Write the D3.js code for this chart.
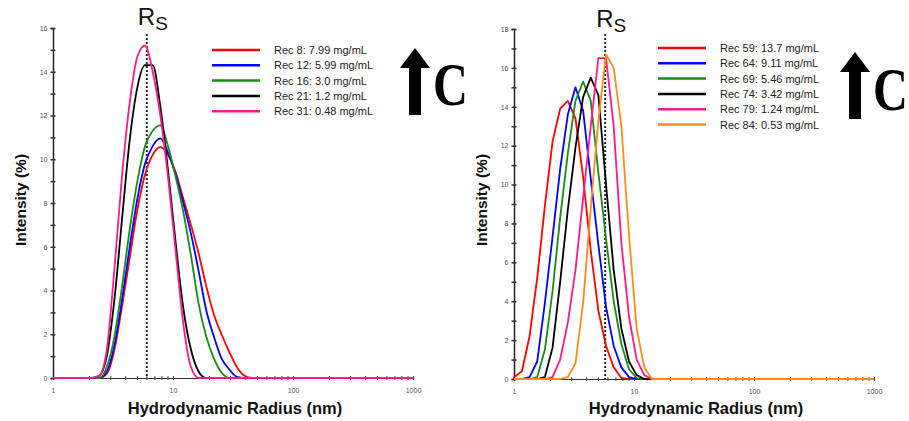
<!DOCTYPE html>
<html>
<head>
<meta charset="utf-8">
<script src="https://cdn.jsdelivr.net/npm/d3@7"></script>
<style>
  body { margin: 0; background: #fff; }
  svg { display: block; font-family: "Liberation Sans", Arial, sans-serif; }
</style>
</head>
<body>
<div id="chart"></div>
<script>

// radius bins (nm) for each panel
var leftRadius = [2.094, 2.425, 2.808, 3.252, 3.766, 4.361, 5.050, 5.849, 6.773, 7.844,
                  9.083, 10.52, 12.18, 14.11, 16.34, 18.92, 21.91, 25.37, 29.38, 34.03,
                  39.41, 45.64, 52.85];
var rightRadius = [1.005, 1.164, 1.348, 1.561, 1.808, 2.094, 2.425, 2.808, 3.252, 3.766,
                   4.361, 5.050, 5.849, 6.773, 7.844, 9.083, 10.52, 12.18, 14.11];

// legend labels
var leftLabels = ["Rec 8: 7.99 mg/mL", "Rec 12: 5.99 mg/mL", "Rec 16: 3.0 mg/mL",
                  "Rec 21: 1.2 mg/mL", "Rec 31: 0.48 mg/mL"];
var rightLabels = ["Rec 59: 13.7 mg/mL", "Rec 64: 9.11 mg/mL", "Rec 69: 5.46 mg/mL",
                   "Rec 74: 3.42 mg/mL", "Rec 79: 1.24 mg/mL", "Rec 84: 0.53 mg/mL"];

// intensity (%) per bin, left panel
var rec8  = [0, 0, 0.2, 1.3, 3.3, 5.5, 7.7, 9.3, 10.2, 10.55, 10.2, 9.4, 8.2, 7.0, 5.7, 4.2, 2.9, 2.0, 1.2, 0.5, 0.1, 0, 0];
var rec12 = [0, 0, 0.3, 1.5, 3.6, 6.0, 8.2, 9.8, 10.6, 10.95, 10.3, 9.3, 8.0, 6.6, 4.9, 3.1, 1.9, 0.9, 0.4, 0.05, 0, 0, 0];
var rec16 = [0, 0, 0.5, 1.9, 4.2, 6.8, 9.0, 10.6, 11.3, 11.55, 10.6, 9.2, 7.6, 5.6, 3.4, 1.9, 0.9, 0.25, 0, 0, 0, 0, 0];
var rec21 = [0, 0.1, 1.0, 3.6, 7.3, 10.9, 13.3, 14.3, 14.3, 12.4, 9.5, 6.2, 3.2, 1.3, 0.3, 0, 0, 0, 0, 0, 0, 0, 0];
var rec31 = [0, 0.1, 1.3, 5.0, 9.3, 12.6, 14.7, 15.2, 14.0, 12.0, 9.2, 5.8, 2.5, 0.5, 0, 0, 0, 0, 0, 0, 0, 0, 0];

// intensity (%) per bin, right panel
var rec59 = [0.1, 0.4, 2.2, 5.2, 8.9, 12.2, 13.9, 14.3, 13.4, 10.4, 6.6, 3.5, 1.7, 0.6, 0.05, 0, 0, 0, 0];
var rec64 = [0, 0, 0.1, 0.9, 3.9, 7.3, 10.8, 13.6, 15.0, 13.8, 10.3, 6.9, 3.7, 1.7, 0.6, 0.1, 0, 0, 0];
var rec69 = [0, 0, 0, 0.1, 1.5, 4.5, 8.3, 11.6, 14.3, 15.3, 14.3, 10.6, 7.2, 4.0, 1.8, 0.5, 0.05, 0, 0];
var rec74 = [0, 0, 0, 0, 0.1, 1.6, 5.0, 8.7, 11.9, 14.5, 15.5, 14.6, 10.0, 5.6, 2.6, 0.9, 0.2, 0, 0];
var rec79 = [0, 0, 0, 0, 0, 0.1, 1.0, 2.9, 5.6, 9.3, 13.0, 16.5, 16.5, 13.0, 7.0, 3.2, 1.0, 0.2, 0];
var rec84 = [0, 0, 0, 0, 0, 0, 0, 0.1, 0.8, 3.9, 8.8, 13.3, 16.7, 16.0, 13.0, 7.4, 2.6, 0.6, 0];

// Rs marker positions (nm)
var leftRs = 6.05;
var rightRs = 5.75;

var leftColors = ["#ff0000", "#0000ff", "#1a8a1a", "#000000", "#ff1a8c"];
var rightColors = ["#ff0000", "#0000ff", "#1a8a1a", "#000000", "#ff1a8c", "#ff8c1a"];

var svg = d3.select("#chart")
            .append("svg")
            .attr("width", 909)
            .attr("height", 421);

svg.append("rect")
   .attr("width", 909)
   .attr("height", 421)
   .attr("fill", "#fff");

var panels = [
  {radius: leftRadius, series: [rec8, rec12, rec16, rec21, rec31], labels: leftLabels,
   colors: leftColors, rs: leftRs, yMax: 16, x0: 53, x1: 413, y0: 378, y1: 28,
   curve: d3.curveMonotoneX,
   legendX: 212, legendY: 50, arrowX: 415, arrowY: 48, cX: 433, cY: 105},
  {radius: rightRadius, series: [rec59, rec64, rec69, rec74, rec79, rec84], labels: rightLabels,
   colors: rightColors, rs: rightRs, yMax: 18, x0: 514, x1: 874, y0: 379, y1: 29,
   curve: d3.curveLinear,
   legendX: 658, legendY: 48, arrowX: 855, arrowY: 52, cX: 873, cY: 110}
];

panels.forEach(drawPanel);

function drawPanel(p) {

  var x = d3.scaleLog()
            .domain([1, 1000])
            .range([p.x0, p.x1]);

  var y = d3.scaleLinear()
            .domain([0, p.yMax])
            .range([p.y0, p.y1]);

  var g = svg.append("g");

  // x axis with minor ticks between decades
  var xTicks = [];
  [1, 10, 100].forEach(function(d) {
    for (var k = 1; k < 10; k++) xTicks.push(d * k);
  });
  xTicks.push(1000);

  var xAxis = g.append("g")
               .attr("transform", "translate(0," + p.y0 + ")")
               .call(d3.axisBottom(x)
                       .tickValues(xTicks)
                       .tickSize(2)
                       .tickPadding(8)
                       .tickFormat(function(d) {
                         return [1, 10, 100, 1000].indexOf(d) >= 0 ? d : "";
                       }));
  xAxis.select(".domain").attr("stroke", "#333").attr("stroke-width", 1.2);
  xAxis.selectAll(".tick line").attr("y1", -2).attr("stroke", "#444");
  xAxis.selectAll(".tick text").attr("font-size", 7).attr("fill", "#555");

  // y axis, labels on even values only
  var yAxis = g.append("g")
               .attr("transform", "translate(" + p.x0 + ",0)")
               .call(d3.axisLeft(y)
                       .tickValues(d3.range(0, p.yMax + 1))
                       .tickSize(2.5)
                       .tickPadding(3)
                       .tickFormat(function(d) { return d % 2 === 0 ? d : ""; }));
  yAxis.select(".domain").attr("stroke", "#222").attr("stroke-width", 1.5);
  yAxis.selectAll(".tick line").attr("x1", 2.5).attr("stroke", "#333").attr("stroke-width", 1.5);
  yAxis.selectAll(".tick text").attr("font-size", 7).attr("fill", "#555");

  // axis titles
  g.append("text")
   .attr("x", (p.x0 + p.x1) / 2 + 2)
   .attr("y", 414)
   .attr("text-anchor", "middle")
   .attr("font-size", 16.5)
   .attr("font-weight", "bold")
   .attr("fill", "#111")
   .text("Hydrodynamic Radius (nm)");

  g.append("text")
   .attr("transform", "translate(" + (p.x0 - 27) + ",200) rotate(-90)")
   .attr("text-anchor", "middle")
   .attr("font-size", 15.5)
   .attr("font-weight", "bold")
   .attr("fill", "#111")
   .text("Intensity (%)");

  // Rs dotted line and label
  var rsX = x(p.rs);
  g.append("line")
   .attr("x1", rsX).attr("x2", rsX)
   .attr("y1", 34).attr("y2", p.y0)
   .attr("stroke", "#222")
   .attr("stroke-width", 2)
   .attr("stroke-dasharray", "2,2");

  var rsLabel = g.append("text")
                 .attr("x", rsX - 9)
                 .attr("y", p.y0 === 378 ? 25 : 27)
                 .attr("font-size", 24)
                 .attr("fill", "#111");
  rsLabel.append("tspan").text("R");
  rsLabel.append("tspan")
         .attr("dy", 5)
         .attr("font-size", 19)
         .text("S");

  // distribution curves, running along zero out to the axis ends
  var line = d3.line()
               .curve(p.curve)
               .x(function(d) { return x(d[0]); })
               .y(function(d) { return y(d[1]); });

  p.series.forEach(function(s, i) {
    var pts = [[1, 0]];
    p.radius.forEach(function(r, j) { pts.push([r, s[j]]); });
    pts.push([1000, 0]);
    g.append("path")
     .datum(pts)
     .attr("d", line)
     .attr("fill", "none")
     .attr("stroke", p.colors[i])
     .attr("stroke-width", 1.8)
     .attr("stroke-linejoin", "round");
  });

  // legend
  var legend = g.selectAll(".legend")
                .data(p.labels)
                .enter()
                .append("g")
                .attr("transform", function(d, i) {
                  return "translate(" + p.legendX + "," + (p.legendY + i * 15.3) + ")";
                });

  legend.append("line")
        .attr("x1", 0).attr("x2", 48)
        .attr("stroke", function(d, i) { return p.colors[i]; })
        .attr("stroke-width", 2.5);

  legend.append("text")
        .attr("x", 62)
        .attr("y", 4)
        .attr("font-size", 11)
        .attr("fill", "#222")
        .text(function(d) { return d; });

  // concentration arrow and "C"
  var ax = p.arrowX, ay = p.arrowY;
  g.append("path")
   .attr("d", "M" + ax + "," + ay +
              "L" + (ax + 15) + "," + (ay + 20) +
              "L" + (ax + 6) + "," + (ay + 20) +
              "L" + (ax + 6) + "," + (ay + 67) +
              "L" + (ax - 6) + "," + (ay + 67) +
              "L" + (ax - 6) + "," + (ay + 20) +
              "L" + (ax - 15) + "," + (ay + 20) + "Z")
   .attr("fill", "#000");

  g.append("text")
   .attr("transform", "translate(" + p.cX + "," + p.cY + ") scale(0.78,1)")
   .attr("font-family", "'Liberation Serif', 'Times New Roman', serif")
   .attr("font-weight", "bold")
   .attr("font-size", 62)
   .attr("fill", "#000")
   .text("C");
}
</script>
</body>
</html>
